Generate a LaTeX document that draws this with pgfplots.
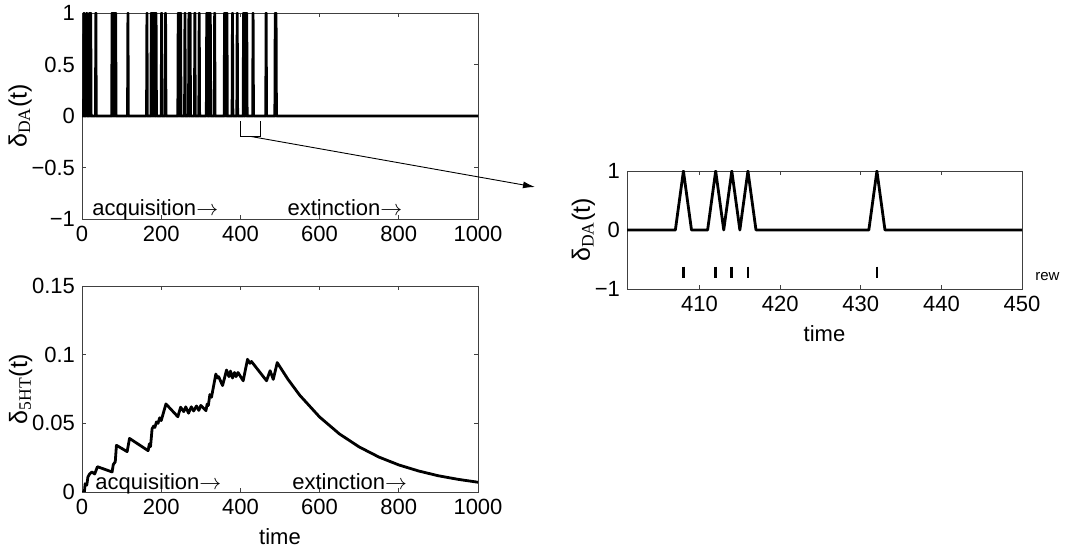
\documentclass[border=0pt]{standalone}
\usepackage{fontspec}
\setmainfont{Liberation Sans}
\newfontfamily\serif{Liberation Serif}
\usepackage{pgfplots}
\pgfplotsset{compat=1.18}
\usetikzlibrary{arrows.meta}

\pgfplotsset{
  mat/.style={
    scale only axis,
    axis line style={black!75, line width=0.4pt},
    tick align=inside, xtick pos=both, ytick pos=both,
    major tick length=2.2pt,
    every tick/.style={black!75, line width=0.4pt},
    tick label style={font=\fontsize{11}{13}\selectfont},
    label style={font=\fontsize{11}{13}\selectfont},
    ylabel style={font=\fontsize{12.5}{14}\selectfont},
    /pgf/number format/assume math mode=true,
    /pgf/number format/1000 sep={},
    scaled ticks=false,
    ylabel shift=-7pt,
    clip mode=individual,
  },
}
\tikzset{
  trace/.style={black, line width=1.4pt, line join=round},
  lbl/.style={anchor=base west, inner sep=0pt, font=\fontsize{11}{13}\selectfont},
}
\newcommand{\arr}{$\rightarrow$}

\begin{document}
\begin{tikzpicture}
\path[use as bounding box] (0,0) rectangle (532.5pt,274.5pt);

% dopamine signal, full run
\begin{axis}[mat, name=top,
    at={(41pt,165pt)}, anchor=south west,
    width=198pt, height=103pt,
    xmin=0, xmax=1000, ymin=-1, ymax=1,
    xtick={0,200,400,600,800,1000},
    ytick={-1,-0.5,0,0.5,1},
    yticklabels={−1,−0.5,0,0.5,1},
    ylabel={δ\textsubscript{\serif DA}(t)},
]
\addplot[trace] coordinates {
 (0,0) (4,0) (5,1) (6,0) (11,0) (12,1) (13,0) (18,0) (19,1) (20,0) (21,0) (22,1) (23,0)
 (34,0) (35,1) (36,0) (75,0) (76,1) (77,0) (78,0) (79,1) (80,0) (81,0) (82,1) (83,0)
 (84,0) (85,1) (86,0) (115,0) (116,1) (117,0) (163,0) (164,1) (165,0) (174,0) (175,1)
 (176,0) (177,0) (178,1) (179,0) (180,0) (181,1) (182,0) (183,0) (184,1) (185,0)
 (186,0) (187,1) (188,0) (200,0) (201,1) (202,0) (210,0) (211,1) (212,0) (242,0)
 (243,1) (244,0) (245,0) (246,1) (247,0) (248,0) (249,1) (250,0) (259,0) (260,1)
 (261,0) (269,0) (270,1) (271,0) (272,0) (273,1) (274,0) (284,0) (285,1) (286,0)
 (295,0) (296,1) (297,0) (314,0) (315,1) (316,0) (317,0) (318,1) (319,0) (320,0)
 (321,1) (322,0) (323,0) (324,1) (325,0) (334,0) (335,1) (336,0) (359,0) (360,1)
 (361,0) (362,0) (363,1) (364,0) (365,0) (366,1) (367,0) (379,0) (380,1) (381,0)
 (391,0) (392,1) (393,0) (407,0) (408,1) (409,0) (411,0) (412,1) (413,0) (414,1)
 (415,0) (416,1) (417,0) (431,0) (432,1) (433,0) (464,0) (465,1) (466,0) (487,0)
 (488,1) (489,0) (490,1) (491,0) (1000,0)
};
\node[lbl] at (axis cs:25,-0.97) {acquisition\arr};
\node[lbl] at (axis cs:518,-0.97) {extinction\arr};
\draw[black, line width=0.4pt] (axis cs:401,-0.05) -- (axis cs:401,-0.2) -- (axis cs:450,-0.2) -- (axis cs:450,-0.05);
\coordinate (brk) at (axis cs:428,-0.2);
\end{axis}

% serotonin signal
\begin{axis}[mat,
    at={(41pt,28.5pt)}, anchor=south west,
    width=198pt, height=103pt,
    xmin=0, xmax=1000, ymin=0, ymax=0.15,
    xtick={0,200,400,600,800,1000},
    ytick={0,0.05,0.1,0.15},
    yticklabels={0,0.05,0.1,0.15},
    xlabel={time},
    ylabel={δ\textsubscript{\serif 5HT}(t)},
]
\addplot[trace] coordinates {
 (0,0) (6,0) (8,0.006) (12,0.005) (15,0.011) (19,0.013) (25,0.0146) (32,0.0131)
 (39,0.0184) (76,0.0146) (79,0.020) (84,0.022) (87,0.034) (114,0.0294) (120,0.039)
 (167,0.0301) (170,0.035) (173,0.033) (177,0.046) (181,0.048) (184,0.047) (188,0.051)
 (192,0.050) (196,0.054) (200,0.052) (212,0.0641) (242,0.0548) (249,0.0617)
 (257,0.0585) (262,0.062) (269,0.0574) (276,0.062) (282,0.059) (289,0.0626)
 (295,0.0594) (300,0.063) (313,0.0592) (316,0.064) (319,0.063) (323,0.071)
 (327,0.069) (338,0.0859) (342,0.083) (345,0.084) (355,0.0775) (365,0.0888)
 (371,0.084) (375,0.088) (380,0.083) (385,0.087) (389,0.084) (394,0.087)
 (407,0.081) (418,0.0966) (424,0.0937) (428,0.095) (466,0.081) (475,0.0883)
 (483,0.082) (493,0.0942) (520,0.0821) (550,0.0704) (600,0.0546) (650,0.0423)
 (700,0.0328) (750,0.0254) (800,0.0197) (850,0.0153) (900,0.0118) (950,0.0092)
 (1000,0.0071)
};
\node[lbl] at (axis cs:33,0.002) {acquisition\arr};
\node[lbl] at (axis cs:530,0.002) {extinction\arr};
\end{axis}

% zoom on 401-450
\begin{axis}[mat,
    at={(313.5pt,130pt)}, anchor=south west,
    width=197.5pt, height=59pt,
    xmin=401, xmax=450, ymin=-1, ymax=1,
    xtick={410,420,430,440,450},
    ytick={-1,0,1},
    yticklabels={−1,0,1},
    xlabel={time},
    ylabel={δ\textsubscript{\serif DA}(t)},
]
\addplot[trace] coordinates {
 (401,0) (407,0) (408,1) (409,0) (411,0) (412,1) (413,0) (414,1) (415,0) (416,1)
 (417,0) (431,0) (432,1) (433,0) (450,0)
};
\addplot[only marks, mark=|, mark size=2.95pt, mark options={line width=1.4pt, black}] coordinates {
 (408,-0.72) (412,-0.72) (414,-0.72) (416,-0.72) (432,-0.72)
};
\node[anchor=west, inner sep=0pt, font=\fontsize{7.5}{9}\selectfont] at (axis cs:451.6,-0.79) {rew};
\end{axis}

\draw[black, line width=0.45pt, -{Latex[length=6pt,width=3.5pt]}] (brk) -- (267.5pt,181pt);
\end{tikzpicture}
\end{document}
